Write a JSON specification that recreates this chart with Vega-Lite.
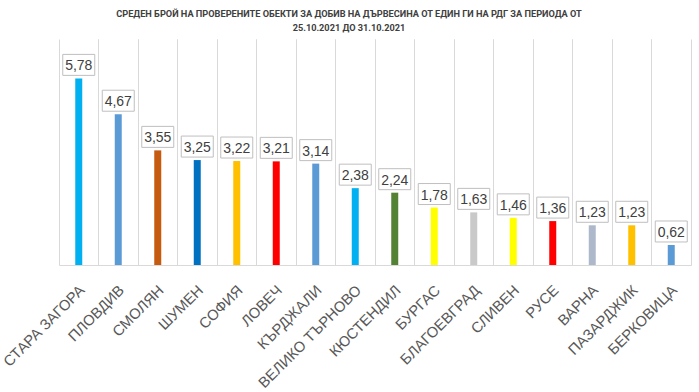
{
  "$schema": "https://vega.github.io/schema/vega-lite/v6.json",
  "width": 632,
  "height": 226,
  "autosize": "none",
  "padding": {"left": 59, "top": 39, "right": 8, "bottom": 127},
  "background": "white",
  "title": {
    "text": ["СРЕДЕН БРОЙ НА ПРОВЕРЕНИТЕ ОБЕКТИ ЗА ДОБИВ НА ДЪРВЕСИНА ОТ ЕДИН ГИ НА РДГ ЗА ПЕРИОДА ОТ", "25.10.2021 ДО 31.10.2021"],
    "font": "Roboto",
    "fontSize": 9.2,
    "fontWeight": "bold",
    "color": "#404040",
    "anchor": "middle",
    "dx": -26,
    "offset": 6,
    "lineHeight": 14
  },
  "config": {
    "locale": {"number": {"decimal": ",", "thousands": " ", "grouping": [3], "currency": ["", ""]}},
    "view": {"stroke": null}
  },
  "data": {
    "values": [
      {"region": "СТАРА ЗАГОРА", "value": 5.78},
      {"region": "ПЛОВДИВ", "value": 4.67},
      {"region": "СМОЛЯН", "value": 3.55},
      {"region": "ШУМЕН", "value": 3.25},
      {"region": "СОФИЯ", "value": 3.22},
      {"region": "ЛОВЕЧ", "value": 3.21},
      {"region": "КЪРДЖАЛИ", "value": 3.14},
      {"region": "ВЕЛИКО ТЪРНОВО", "value": 2.38},
      {"region": "КЮСТЕНДИЛ", "value": 2.24},
      {"region": "БУРГАС", "value": 1.78},
      {"region": "БЛАГОЕВГРАД", "value": 1.63},
      {"region": "СЛИВЕН", "value": 1.46},
      {"region": "РУСЕ", "value": 1.36},
      {"region": "ВАРНА", "value": 1.23},
      {"region": "ПАЗАРДЖИК", "value": 1.23},
      {"region": "БЕРКОВИЦА", "value": 0.62}
    ]
  },
  "encoding": {
    "y": {"field": "value", "type": "quantitative", "scale": {"domain": [0, 7], "nice": false}, "axis": null}
  },
  "layer": [
    {
      "mark": {"type": "bar", "width": 7},
      "encoding": {
        "x": {"field": "region", "type": "nominal", "sort": null, "title": null,
          "scale": {"paddingInner": 0, "paddingOuter": 0},
          "axis": {"orient": "bottom", "bandPosition": 0, "grid": true, "gridColor": "#d9d9d9", "gridWidth": 1,
            "domainColor": "#d9d9d9", "ticks": false, "labelAngle": -45, "labelAlign": "right", "labelBaseline": "middle",
            "labelFont": "Liberation Sans", "labelFontSize": 14.8, "labelColor": "#595959", "labelPadding": 23, "labelOffset": 4}},
        "color": {"field": "region", "type": "nominal", "legend": null,
          "scale": {
            "domain": ["СТАРА ЗАГОРА", "ПЛОВДИВ", "СМОЛЯН", "ШУМЕН", "СОФИЯ", "ЛОВЕЧ", "КЪРДЖАЛИ", "ВЕЛИКО ТЪРНОВО", "КЮСТЕНДИЛ", "БУРГАС", "БЛАГОЕВГРАД", "СЛИВЕН", "РУСЕ", "ВАРНА", "ПАЗАРДЖИК", "БЕРКОВИЦА"],
            "range": ["#00B0F0", "#5B9BD5", "#C55A11", "#0070C0", "#FFC000", "#FF0000", "#5B9BD5", "#00B0F0", "#548235", "#FFFF00", "#C9C9C9", "#FFFF00", "#FF0000", "#ADB9CA", "#FFC000", "#5B9BD5"]
          }}
      }
    },
    {
      "mark": {"type": "point", "shape": "M-1,-0.656H1V0.656H-1Z", "size": 1024, "filled": true, "fill": "white", "stroke": "#bfbfbf", "strokeWidth": 1, "opacity": 1, "yOffset": -13.5},
      "encoding": {
        "x": {"field": "region", "type": "nominal", "sort": null, "axis": null}
      }
    },
    {
      "mark": {"type": "text", "font": "Liberation Sans", "fontSize": 14, "color": "#404040", "baseline": "alphabetic", "yOffset": -8},
      "encoding": {
        "x": {"field": "region", "type": "nominal", "sort": null, "title": null,
          "axis": {"orient": "top", "bandPosition": 1, "grid": true, "gridColor": "#d9d9d9", "gridWidth": 1,
            "domain": false, "ticks": false, "labels": false}},
        "text": {"field": "value", "type": "quantitative", "format": ".2f"}
      }
    }
  ],
  "resolve": {"axis": {"x": "independent"}}
}
